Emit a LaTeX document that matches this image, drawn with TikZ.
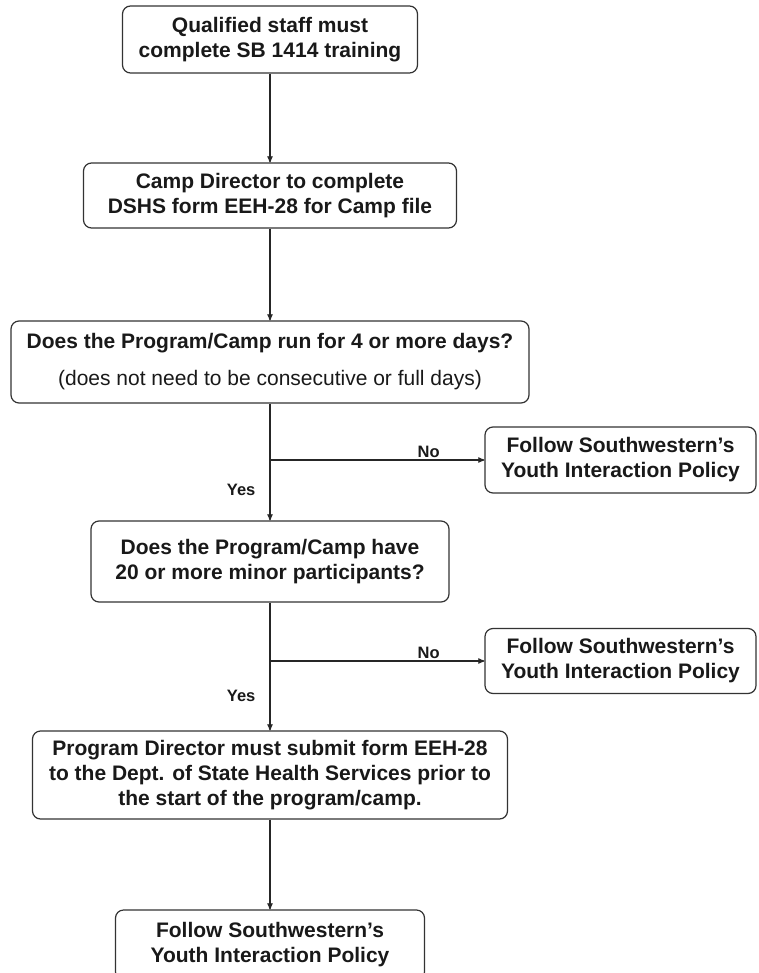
\documentclass[tikz,border=0pt]{standalone}
\usepackage{fontspec}
\setmainfont{Liberation Sans}
\usetikzlibrary{arrows}

\begin{document}
\begin{tikzpicture}[x=1pt,y=-1pt,->,>=stealth',line width=1.2pt,color=black!85,
  box node/.style={draw=black!80,rounded corners=8pt,align=center,inner sep=0pt,text=black!90,font=\bfseries\fontsize{21}{25}\selectfont},
  branch node/.style={inner sep=0pt,text=black!90,font=\bfseries\fontsize{16.5}{18}\selectfont}]
  \useasboundingbox (0,0) rectangle (758,973);

  \node[box node,minimum width=295pt,minimum height=67pt] (qualified) at (270,39.5) {Qualified staff must\\complete SB 1414 training};
  \node[box node,minimum width=373pt,minimum height=65pt] (camp) at (270,195.5) {Camp Director to complete\\DSHS form EEH-28 for Camp file};
  \node[box node,minimum width=518pt,minimum height=82pt] (days) at (270,362) {Does the Program/Camp run for 4 or more days?\\[12pt]{\mdseries (does not need to be consecutive or full days)}};
  \node[box node,minimum width=271pt,minimum height=66pt] (youth1) at (620.5,460) {Follow Southwestern’s\\Youth Interaction Policy};
  \node[box node,minimum width=358pt,minimum height=81pt] (twenty) at (270,561.5) {Does the Program/Camp have\\20 or more minor participants?};
  \node[box node,minimum width=271pt,minimum height=65pt] (youth2) at (620.5,661) {Follow Southwestern’s\\Youth Interaction Policy};
  \node[box node,minimum width=475pt,minimum height=88pt] (director) at (270,775) {Program Director must submit form EEH-28\\to the Dept. of State Health Services prior to\\the start of the program/camp.};
  \node[box node,minimum width=309pt,minimum height=70pt] (youth3) at (270,945) {Follow Southwestern’s\\Youth Interaction Policy};

  \coordinate (fork1) at (270,460);
  \coordinate (fork2) at (270,661);

  \draw[-] (days) -- (fork1);
  \draw[-] (twenty) -- (fork2);

\path
  (qualified) edge (camp)
  (camp) edge (days)
  (fork1) edge node[branch node,pos=0.74,above=2pt] {No} (youth1)
  (fork1) edge node[branch node,left=14pt] {Yes} (twenty)
  (fork2) edge node[branch node,pos=0.74,above=2pt] {No} (youth2)
  (fork2) edge node[branch node,left=14pt] {Yes} (director)
  (director) edge (youth3)
;
\end{tikzpicture}
\end{document}
